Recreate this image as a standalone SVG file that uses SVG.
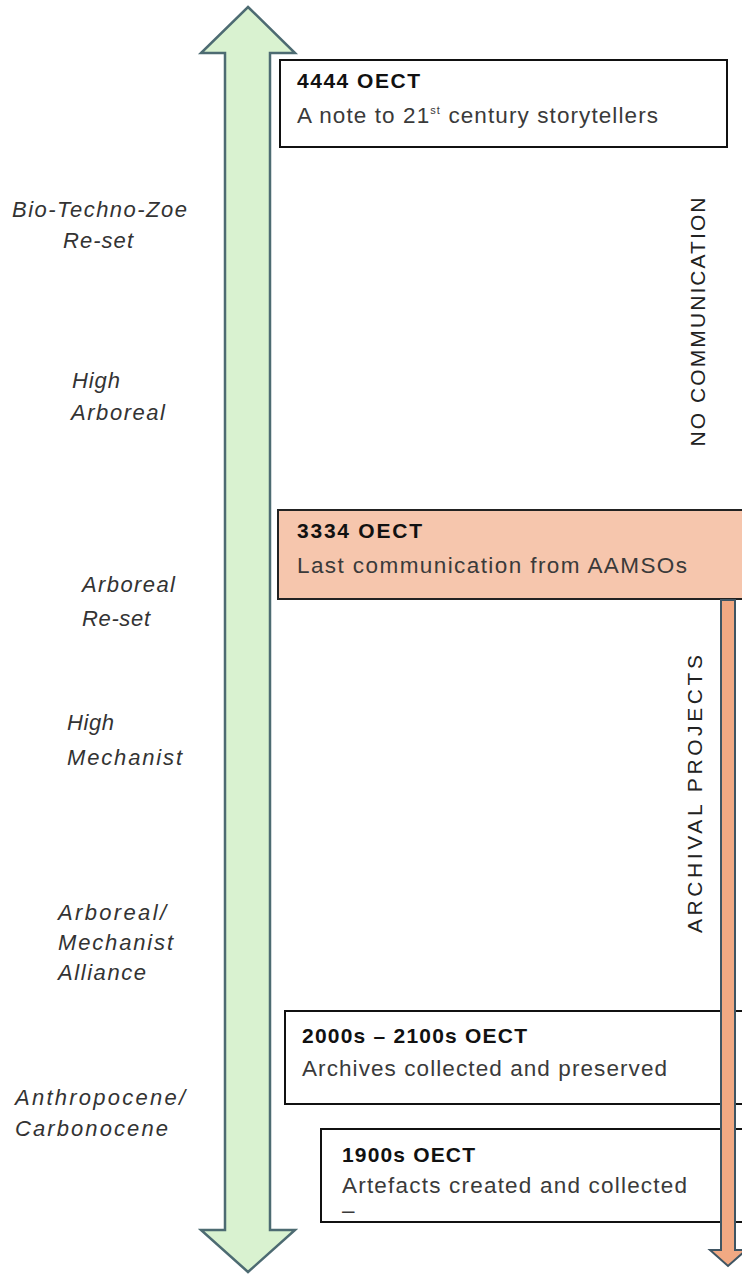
<svg xmlns="http://www.w3.org/2000/svg" width="742" height="1274" viewBox="0 0 742 1274">
<style>
.box{fill:#ffffff;stroke:#111;stroke-width:2}
.boxo{fill:#f6c6ad;stroke:#222;stroke-width:2}
.t{font-family:"Liberation Sans",Arial,sans-serif;font-size:21px;font-weight:bold;fill:#111}
.s{font-family:"Liberation Sans",Arial,sans-serif;font-size:22.5px;fill:#3a3a3a}
.era{font-family:"Liberation Sans",Arial,sans-serif;font-size:22px;font-style:italic;fill:#333}
.v{font-family:"Liberation Sans",Arial,sans-serif;font-size:21px;fill:#222}
</style>
<rect width="742" height="1274" fill="#ffffff"/>
<g id="timeline-arrow">
<polygon points="248,7 295,53 270,53 270,1230 295,1230 248,1272 201,1230 225,1230 225,53 201,53" fill="#d9f2d0" stroke="#4d6b72" stroke-width="2.5" stroke-linejoin="miter"/>
</g>
<g id="eras">
<text class="era" x="12" y="217" textLength="175" lengthAdjust="spacing">Bio-Techno-Zoe</text>
<text class="era" x="63" y="248" textLength="70" lengthAdjust="spacing">Re-set</text>
<text class="era" x="72" y="388" textLength="48" lengthAdjust="spacing">High</text>
<text class="era" x="71" y="420" textLength="94" lengthAdjust="spacing">Arboreal</text>
<text class="era" x="82" y="592" textLength="93" lengthAdjust="spacing">Arboreal</text>
<text class="era" x="82" y="626" textLength="68" lengthAdjust="spacing">Re-set</text>
<text class="era" x="67" y="730" textLength="47" lengthAdjust="spacing">High</text>
<text class="era" x="67" y="765" textLength="115" lengthAdjust="spacing">Mechanist</text>
<text class="era" x="58" y="920" textLength="108" lengthAdjust="spacing">Arboreal/</text>
<text class="era" x="58" y="950" textLength="115" lengthAdjust="spacing">Mechanist</text>
<text class="era" x="58" y="980" textLength="88" lengthAdjust="spacing">Alliance</text>
<text class="era" x="15" y="1105" textLength="170" lengthAdjust="spacing">Anthropocene/</text>
<text class="era" x="15" y="1136" textLength="153" lengthAdjust="spacing">Carbonocene</text>
</g>
<g id="node-4444">
<rect class="box" x="280" y="60" width="447" height="87"/>
<text class="t" x="297" y="88" textLength="123" lengthAdjust="spacing">4444 OECT</text>
<text class="s" x="297" y="123" textLength="361" lengthAdjust="spacing">A note to 21<tspan font-size="11" dy="-9">st</tspan><tspan dy="9"> century storytellers</tspan></text>
</g>
<g id="node-3334">
<rect class="boxo" x="278" y="510" width="470" height="89"/>
<text class="t" x="297" y="538" textLength="125" lengthAdjust="spacing">3334 OECT</text>
<text class="s" x="297" y="573" textLength="390" lengthAdjust="spacing">Last communication from AAMSOs</text>
</g>
<g id="node-2000s">
<rect class="box" x="285" y="1011" width="462" height="93"/>
<text class="t" x="302" y="1043" textLength="225" lengthAdjust="spacing">2000s – 2100s OECT</text>
<text class="s" x="302" y="1076" textLength="365" lengthAdjust="spacing">Archives collected and preserved</text>
</g>
<g id="node-1900s">
<rect class="box" x="321" y="1129" width="426" height="93"/>
<text class="t" x="342" y="1162" textLength="133" lengthAdjust="spacing">1900s OECT</text>
<text class="s" x="342" y="1193" textLength="345" lengthAdjust="spacing">Artefacts created and collected</text>
<text class="s" x="342" y="1218" font-size="14">–</text>
</g>
<g id="connectors">
<polygon points="721,600 735,600 735,1250 746,1250 728,1266 710,1250 721,1250" fill="#f1a983" stroke="#3f5563" stroke-width="2"/>
</g>
<g id="labels">
<text class="v" transform="translate(705,322) rotate(-90)" text-anchor="middle" textLength="249" lengthAdjust="spacing">NO COMMUNICATION</text>
<text class="v" transform="translate(702,794) rotate(-90)" text-anchor="middle" textLength="278" lengthAdjust="spacing">ARCHIVAL PROJECTS</text>
</g>
</svg>
